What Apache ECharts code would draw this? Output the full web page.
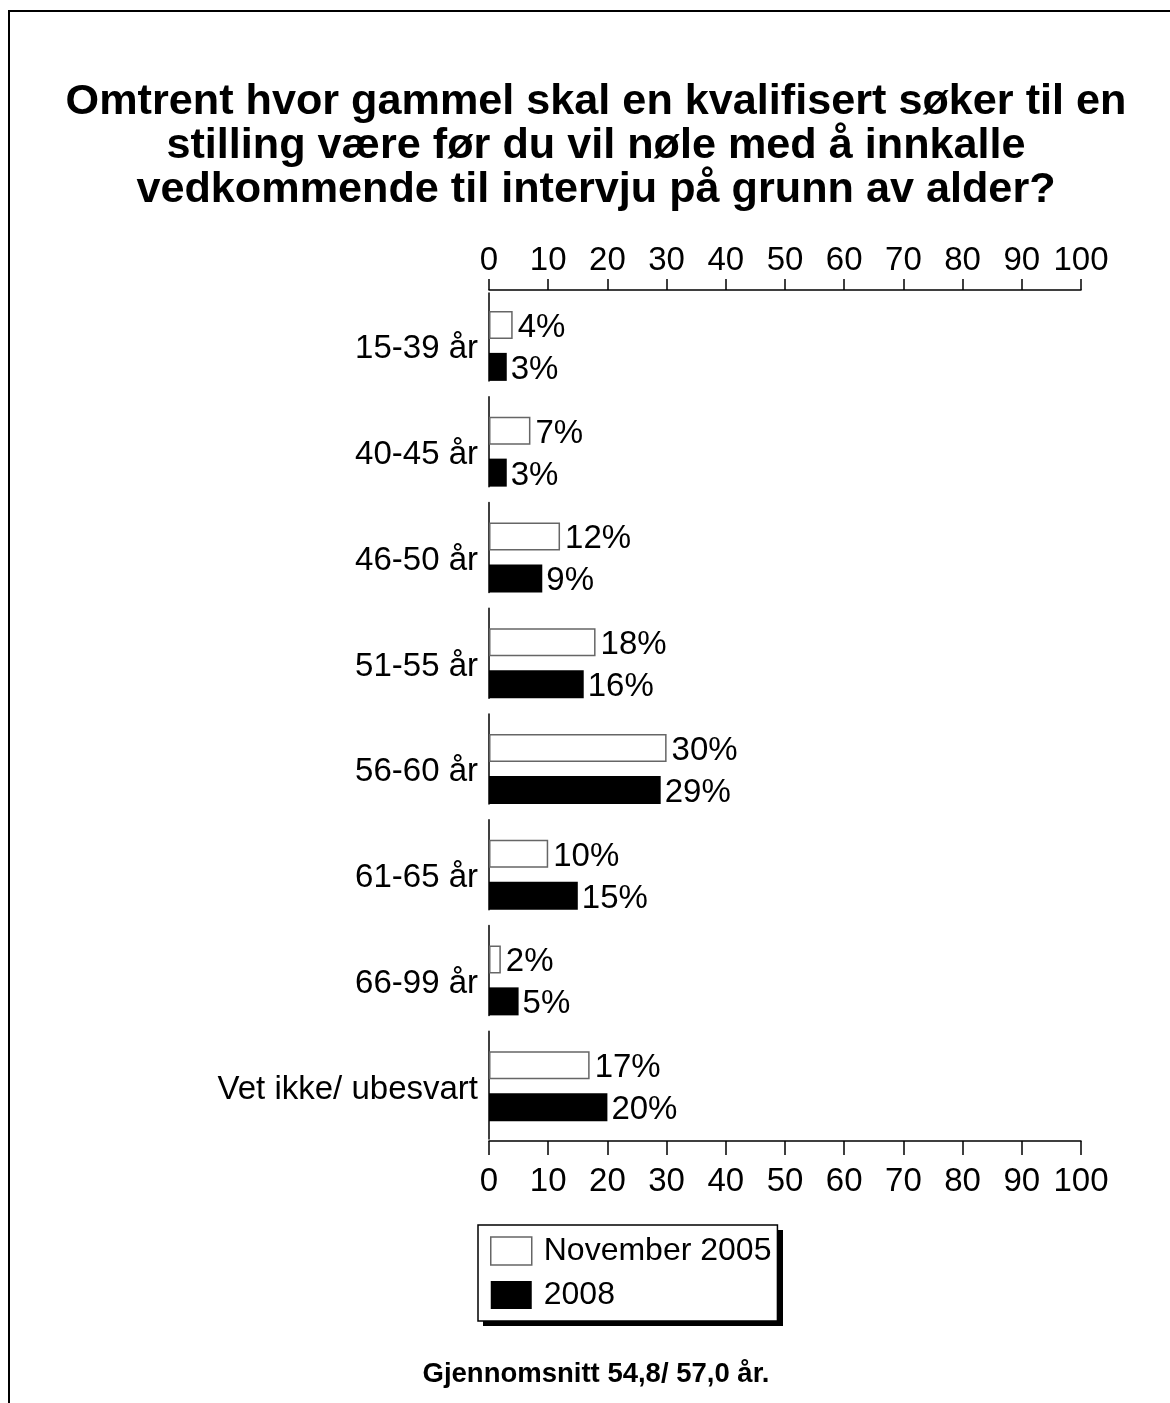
<!DOCTYPE html>
<html>
<head>
<meta charset="utf-8">
<script src="https://cdn.jsdelivr.net/npm/echarts@6/dist/echarts.min.js"></script>
<style>
  html, body { margin: 0; padding: 0; background: #fff; }
  #chart { width: 1170px; height: 1403px; }
</style>
</head>
<body>
<div id="chart"></div>
<script>
// aldersgrupper (kategorier)
var categories = ['15-39 år', '40-45 år', '46-50 år', '51-55 år', '56-60 år', '61-65 år', '66-99 år', 'Vet ikke/ ubesvart'];
// prosent per gruppe
var nov2005 = [4, 7, 12, 18, 30, 10, 2, 17];
var y2008 = [3, 3, 9, 16, 29, 15, 5, 20];
var axisTicks = [0, 100, 10]; // min, max, steg

var fontName = '"Liberation Sans", Arial, sans-serif';
var fs = 33;

var myChart = echarts.init(document.getElementById('chart'));

function valueAxis(pos, tickLen, margin, offset) {
	return {
		type: 'value',
		position: pos,
		offset: offset,
		min: axisTicks[0],
		max: axisTicks[1],
		interval: axisTicks[2],
		axisLine: { show: true, lineStyle: { color: '#000', width: 1.5 } },
		axisTick: { show: true, length: tickLen, lineStyle: { color: '#000', width: 1.5 } },
		axisLabel: { margin: margin, color: '#000', fontFamily: fontName, fontSize: fs },
		splitLine: { show: false }
	};
}

// y-aksen er brutt mellom gruppene, siste stykke går helt ned
var axisDash = [];
for (var i = 0; i < categories.length - 1; i++) {
	axisDash.push(90, 15.75);
}
axisDash.push(130, 1);

var option = {
	backgroundColor: '#fff',
	animation: false,
	title: [{
		text: 'Omtrent hvor gammel skal en kvalifisert søker til en\nstilling være før du vil nøle med å innkalle\nvedkommende til intervju på grunn av alder?',
		left: 591,
		top: 75,
		textAlign: 'center',
		textStyle: { color: '#000', fontFamily: fontName, fontSize: 43.2, fontWeight: 'bold', lineHeight: 44 }
	}, {
		text: 'Gjennomsnitt 54,8/ 57,0 år.',
		left: 591,
		top: 1355,
		textAlign: 'center',
		textStyle: { color: '#000', fontFamily: fontName, fontSize: 27.5, fontWeight: 'bold' }
	}],
	legend: {
		orient: 'vertical',
		left: 478,
		top: 1225,
		z: 10,
		itemWidth: 41,
		itemHeight: 28,
		itemGap: 12,
		padding: [10, 6, 10, 12],
		borderColor: '#000',
		borderWidth: 1.5,
		backgroundColor: '#fff',
		textStyle: { color: '#000', fontFamily: fontName, fontSize: 32, padding: [0, 0, 0, 7] },
		data: [
			{ name: 'November 2005', icon: 'rect', itemStyle: { color: '#fff', borderColor: '#666', borderWidth: 1.5 } },
			{ name: '2008', icon: 'rect', itemStyle: { color: '#000', borderColor: '#000', borderWidth: 0 } }
		]
	},
	grid: { left: 489, right: 89, top: 293, bottom: 264 },
	xAxis: [valueAxis('top', 11, 13, 3), valueAxis('bottom', 14, 24, 2)],
	yAxis: {
		type: 'category',
		inverse: true,
		data: categories,
		axisLine: { show: true, lineStyle: { color: '#000', width: 1.5, type: axisDash, dashOffset: 2 } },
		axisTick: { show: false },
		axisLabel: { margin: 11, color: '#000', fontFamily: fontName, fontSize: fs, verticalAlign: 'top', lineHeight: 7 }
	},
	series: [{
		name: 'November 2005',
		type: 'bar',
		data: nov2005,
		barWidth: 28,
		barGap: '50%',
		itemStyle: { color: '#fff', borderColor: '#666', borderWidth: 1.5 },
		label: { show: true, position: 'right', distance: 5, offset: [0, 3], formatter: '{c}%', color: '#000', fontFamily: fontName, fontSize: fs }
	}, {
		name: '2008',
		type: 'bar',
		data: y2008,
		barWidth: 28,
		barGap: '50%',
		itemStyle: { color: '#000' },
		label: { show: true, position: 'right', distance: 4, offset: [0, 3], formatter: '{c}%', color: '#000', fontFamily: fontName, fontSize: fs }
	}],
	graphic: [{
		type: 'rect',
		silent: true,
		shape: { x: 9, y: 11, width: 1400, height: 1600 },
		style: { fill: 'none', stroke: '#000', lineWidth: 2 }
	}, {
		// skygge bak forklaringen
		type: 'rect',
		silent: true,
		z: 1,
		shape: { x: 483, y: 1230, width: 300, height: 96 },
		style: { fill: '#000' }
	}]
};
myChart.setOption(option);
</script>
</body>
</html>
